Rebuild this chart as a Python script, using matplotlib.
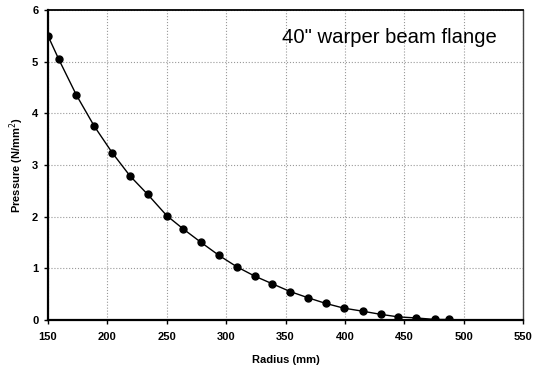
import numpy as np
import matplotlib.pyplot as plt

plt.rcParams['font.family'] = ['Liberation Sans', 'DejaVu Sans']

# Radius (mm) and pressure (N/mm^2)
radius = [150, 159, 174, 189, 204, 219, 234, 250, 264, 279, 294, 309,
          324, 339, 354, 369, 384, 399, 415, 430, 445, 460, 476, 488]
pressure = [5.50, 5.05, 4.35, 3.75, 3.24, 2.79, 2.43, 2.02, 1.76, 1.50, 1.25, 1.03,
            0.85, 0.70, 0.55, 0.43, 0.32, 0.23, 0.17, 0.11, 0.06, 0.04, 0.01, 0.01]

x_ticks = [150, 200, 250, 300, 350, 400, 450, 500, 550]
y_ticks = [0, 1, 2, 3, 4, 5, 6]

fig = plt.figure(figsize=(5.35, 3.69), dpi=100)
ax = fig.add_axes([0.0897, 0.1328, 0.8879, 0.8401])

ax.plot(radius, pressure, color='black', linewidth=1.0, marker='o',
        markersize=5, markerfacecolor='black', markeredgecolor='black')

ax.set_xlim(150, 550)
ax.set_ylim(0, 6)
ax.set_xticks(x_ticks)
ax.set_yticks(y_ticks)
ax.grid(True, linestyle=':', color='#999999', linewidth=0.8)

for s in ['left', 'bottom']:
    ax.spines[s].set_linewidth(1.6)
ax.spines['top'].set_linewidth(1.3)
ax.spines['right'].set_linewidth(1.0)
ax.spines['right'].set_color('#444444')

ax.tick_params(axis='both', direction='out', length=3, width=1, labelsize=8)
ax.tick_params(axis='x', pad=6)
ax.tick_params(axis='y', pad=4)
for lbl in ax.get_xticklabels() + ax.get_yticklabels():
    lbl.set_fontweight('bold')

ax.set_xlabel('Radius (mm)', fontsize=8, fontweight='bold', labelpad=9)
ax.set_ylabel('Pressure (N/mm$^2$)', fontsize=8, fontweight='bold', labelpad=4)

ax.text(0.945, 0.91, '40" warper beam flange', transform=ax.transAxes,
        fontsize=14.6, ha='right', va='center', color='black')

fig.savefig('out.png', dpi=100)
